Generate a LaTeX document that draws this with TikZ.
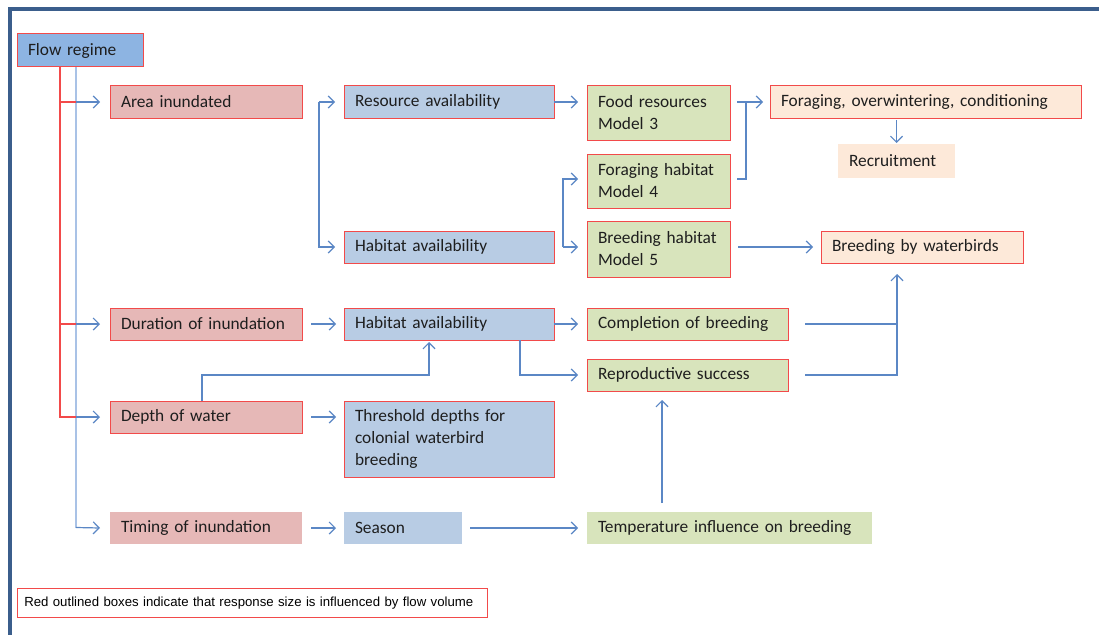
\documentclass[tikz,border=0pt]{standalone}
\usepackage{fontspec}
\setmainfont{Carlito}
\newfontfamily\legendfont{Liberation Sans}
\usetikzlibrary{arrows.meta,calc}

\definecolor{redb}{HTML}{F24A4A}
\definecolor{arrblue}{HTML}{5B87C5}
\definecolor{trunkblue}{HTML}{A9C2E6}
\definecolor{flowfill}{HTML}{8DB4E2}
\definecolor{pinkfill}{HTML}{E6B8B7}
\definecolor{bluefill}{HTML}{B8CCE4}
\definecolor{greenfill}{HTML}{D8E4BC}
\definecolor{peachfill}{HTML}{FDE9D9}
\definecolor{framecol}{HTML}{3B5E8C}
\definecolor{txt}{HTML}{1E1E1E}

\tikzset{
  box/.style={rectangle, inner xsep=8.25pt, inner ysep=0pt, outer sep=0pt,
    align=left, font=\fontsize{13}{16.5}\selectfont, text=txt, line width=0.75pt},
  rbox/.style={box, draw=redb},
  flowbox/.style={rbox, fill=flowfill},
  driver/.style={rbox, fill=pinkfill},
  driverplain/.style={box, fill=pinkfill},
  habbox/.style={rbox, fill=bluefill},
  habplain/.style={box, fill=bluefill},
  modelbox/.style={rbox, fill=greenfill},
  modelplain/.style={box, fill=greenfill},
  outbox/.style={rbox, fill=peachfill},
  outplain/.style={box, fill=peachfill},
  legendbox/.style={rectangle, fill=white, draw=redb, line width=0.8pt,
    inner xsep=5.25pt, inner ysep=0pt, outer sep=0pt, minimum height=21.4pt,
    text width=342.4pt, align=left,
    font=\legendfont\fontsize{9.9}{11}\selectfont},
  arr/.style={draw=arrblue, line width=0.9pt, -{Straight Barb[length=4.5pt,width=9pt]}},
  link/.style={draw=arrblue, line width=0.9pt},
  trunk/.style={draw=trunkblue, line width=1.1pt},
  redlink/.style={draw=redb, line width=0.8pt},
}

% box from pixel corner (x1,y1) to (x2,y2)
\newcommand\bx[7]{%
  \pgfmathsetmacro\bxw{(#5-#3)*0.75-16.5}%
  \pgfmathsetmacro\bxh{(#6-#4)*0.75}%
  \node[#1, text width=\bxw pt, minimum height=\bxh pt] (#2) at ({(#3+#5)/2},{(#4+#6)/2}) {#7};%
}

\begin{document}
\begin{tikzpicture}[x=0.75pt,y=-0.75pt]
\useasboundingbox (0,0) rectangle (1099,635);

% frame
\draw[framecol, line width=2.7pt] (1105,9) -- (10,9) -- (10,645);

% boxes
\bx{flowbox}{flow}{17}{34}{143}{67}{Flow regime}
\bx{driver}{area}{110}{86}{302}{118}{Area inundated}
\bx{driver}{dur}{110}{308}{302}{340}{Duration of inundation}
\bx{driver}{depth}{110}{401}{302}{433}{Depth of water}
\bx{driverplain}{timing}{110}{512}{302}{544}{Timing of inundation}

\bx{habbox}{res}{344}{86}{554}{118}{Resource availability}
\bx{habbox}{hab1}{344}{231}{554}{263}{Habitat availability}
\bx{habbox}{hab2}{344}{308}{554}{340}{Habitat availability}
\bx{habbox}{thr}{344}{401}{554}{477}{Threshold depths for\\colonial waterbird\\breeding}
\bx{habplain}{season}{344}{512}{462}{544}{Season}

\bx{modelbox}{food}{587}{86}{730}{140}{Food resources\\Model 3}
\bx{modelbox}{forh}{587}{154}{730}{208}{Foraging habitat\\Model 4}
\bx{modelbox}{breh}{587}{221}{730}{277}{Breeding habitat\\Model 5}
\bx{modelbox}{comp}{587}{308}{788}{340}{Completion of breeding}
\bx{modelbox}{repro}{587}{359}{788}{391}{Reproductive success}
\bx{modelplain}{temp}{587}{512}{872}{544}{Temperature influence on breeding}

\bx{outbox}{forage}{770}{86}{1081}{118}{Foraging, overwintering, conditioning}
\bx{outplain}{recruit}{838}{144}{955}{178}{Recruitment}
\bx{outbox}{bbw}{821}{231}{1023}{263}{Breeding by waterbirds}

% legend
\node[legendbox, anchor=north west] (legend) at (17.3,588.7)
  {Red outlined boxes indicate that response size is influenced by flow volume};

% flow regime trunks
\coordinate (rt) at ($(flow.south west)+(43,0)$);
\coordinate (bt) at ($(flow.south west)+(59,0)$);
\draw[trunk] (bt) -- (bt |- timing.west);
\draw[redlink] (rt) |- (bt |- depth.west);
\draw[redlink] (rt |- area.west) -- (bt |- area.west);
\draw[redlink] (rt |- dur.west) -- (bt |- dur.west);
\draw[arr] (bt |- area.west) -- ($(area.west)+(-10,0)$);
\draw[arr] (bt |- dur.west) -- ($(dur.west)+(-10,0)$);
\draw[arr] (bt |- depth.west) -- ($(depth.west)+(-10,0)$);
\draw[arr] ($(bt |- timing.west)+(0,-0.5)$) -- ($(timing.west)+(-10,0)$);

% area inundated bracket
\coordinate (ab) at ($(res.west)+(-25,0)$);
\draw[arr] (ab) -- ($(res.west)+(-9,0)$);
\draw[arr] (ab) |- ($(hab1.west)+(-9,0)$);

% resource availability to food resources
\draw[arr] (res.east) -- ($(res.east -| food.west)+(-9,0)$);

% habitat availability bracket
\coordinate (hb) at ($(hab1.east)+(9,0)$);
\draw[arr] (hb) |- ($(forh.west)+(-9,-2)$);
\draw[arr] (hb) -- ($(hb -| breh.west)+(-9,0)$);

% food and foraging habitat to foraging/overwintering
\coordinate (fb) at ($(food.east |- forage.west)+(16,0)$);
\draw[arr] ($(food.east |- forage.west)+(7,0)$) -- ($(forage.west)+(-7,0)$);
\draw[link] ($(forh.east)+(7,-2)$) -| (fb);
\draw[arr] ($(recruit.north |- forage.south)+(0,2)$) -- ($(recruit.north)+(0,-1)$);

% breeding habitat to breeding by waterbirds
\draw[arr] ($(breh.east |- bbw.west)+(8,0)$) -- ($(bbw.west)+(-8,0)$);

% completion and reproductive success to breeding by waterbirds
\coordinate (cb) at ($(bbw.south)+(-25,0)$);
\draw[link] ($(comp.east)+(17,0)$) -- (cb |- comp.east);
\draw[arr] ($(repro.east)+(17,0)$) -| ($(bbw.south)+(-25,11)$);

% duration row
\draw[arr] ($(dur.east)+(9,0)$) -- ($(hab2.west)+(-8,0)$);
\draw[arr] (hab2.east) -- ($(comp.west)+(-9,0)$);
\draw[arr] ($(hab2.south)+(71,0)$) |- ($(repro.west)+(-9,0)$);

% depth row
\draw[arr] ($(depth.north)+(-4,0)$) -- ++(0,-26) -| ($(hab2.south)+(-20,2)$);
\draw[arr] ($(depth.east)+(9,0)$) -- ($(depth.east -| thr.west)+(-8,0)$);

% timing row
\draw[arr] ($(timing.east)+(9,0)$) -- ($(season.west)+(-8,0)$);
\draw[arr] ($(season.east)+(8,0)$) -- ($(temp.west)+(-9,0)$);
\draw[arr] ($(temp.north)+(-67.5,-9)$) -- ($(repro.south)+(-25.5,9)$);
\end{tikzpicture}
\end{document}
